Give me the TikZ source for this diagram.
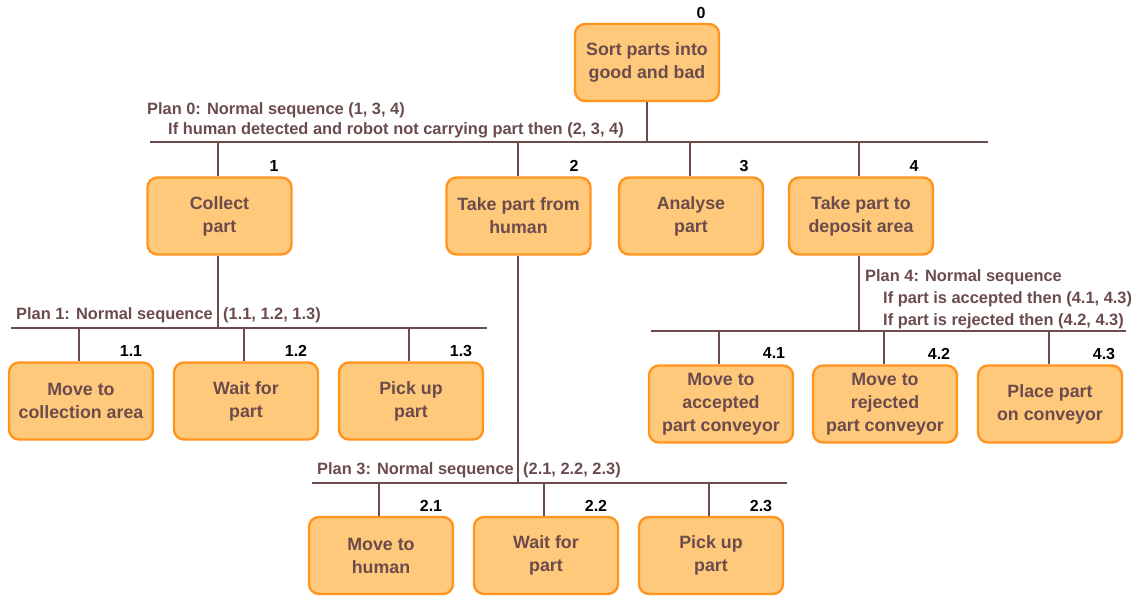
\documentclass[tikz,border=0pt]{standalone}
\usepackage{fontspec}
\setmainfont{Liberation Sans}
\definecolor{boxfill}{HTML}{FFC97C}
\definecolor{boxedge}{HTML}{FF941E}
\definecolor{ink}{HTML}{6B4B4B}
\begin{document}
\begin{tikzpicture}[x=1pt,y=-1pt,
  task/.style={draw=boxedge, fill=boxfill, line width=2.4pt, rounded corners=10pt,
    minimum width=144pt, minimum height=77pt, inner sep=0pt, align=center,
    text=ink, font=\fontsize{17.8}{23}\selectfont\bfseries},
  num/.style={font=\fontsize{16}{16}\selectfont\bfseries, text=black, inner sep=0pt},
  plan/.style={font=\fontsize{16.4}{22}\selectfont\bfseries, text=ink, inner sep=0pt, anchor=west, align=left},
  link/.style={draw=ink, line width=1.6pt}]
\useasboundingbox (0,0) rectangle (1141,597);

% top task
\node[task] (n0) at (647,62.5) {Sort parts into\\good and bad};
\node[num] (l0) at (701,13) {0};

% plan 0 bar
\coordinate (b0l) at (150,142);
\coordinate (b0r) at (988,142);
\draw[link] (b0l) -- (b0r);
\draw[link] (n0.south) -- (n0.south |- b0l);
\node[plan] (p0a) at (147,110) {Plan 0: Normal sequence (1, 3, 4)};
\node[plan] (p0b) at (168,130) {If human detected and robot not carrying part then (2, 3, 4)};

% level 1
\node[task] (n1) at (219.5,216) {Collect\\part};
\node[task] (n2) at (518.5,216) {Take part from\\human};
\node[task] (n3) at (691,216) {Analyse\\part};
\node[task] (n4) at (861,216) {Take part to\\deposit area};
\node[num] (l1) at (274,166) {1};
\node[num] (l2) at (574,166) {2};
\node[num] (l3) at (744,166) {3};
\node[num] (l4) at (914,166) {4};
\foreach \n/\x in {n1/218,n2/518,n3/690,n4/859}
  \draw[link] (\n.north -| \x,0) -- (\x,142);

% plan 1
\coordinate (b1l) at (11,328);
\coordinate (b1r) at (487,328);
\draw[link] (b1l) -- (b1r);
\draw[link] (n1.south -| 218,0) -- (218,328);
\node[plan] (p1a) at (16,315) {Plan 1: Normal sequence};
\node[plan] (p1b) at (223,315) {(1.1, 1.2, 1.3)};
\node[task] (n11) at (81,401) {Move to\\collection area};
\node[task] (n12) at (246,401) {Wait for\\part};
\node[task] (n13) at (411,401) {Pick up\\part};
\node[num] (l11) at (131,351) {1.1};
\node[num] (l12) at (296,351) {1.2};
\node[num] (l13) at (461,351) {1.3};
\foreach \n/\x in {n11/79,n12/244,n13/409}
  \draw[link] (\n.north -| \x,0) -- (\x,328);

% plan under task 2
\coordinate (b2l) at (312,483);
\coordinate (b2r) at (787,483);
\draw[link] (b2l) -- (b2r);
\draw[link] (n2.south -| 518,0) -- (518,483);
\node[plan] (p2a) at (317,470) {Plan 3: Normal sequence};
\node[plan] (p2b) at (523,470) {(2.1, 2.2, 2.3)};
\node[task] (n21) at (381,555.5) {Move to\\human};
\node[task] (n22) at (546,555.5) {Wait for\\part};
\node[task] (n23) at (711,555.5) {Pick up\\part};
\node[num] (l21) at (431,506) {2.1};
\node[num] (l22) at (596,506) {2.2};
\node[num] (l23) at (761,506) {2.3};
\foreach \n/\x in {n21/379,n22/544,n23/709}
  \draw[link] (\n.north -| \x,0) -- (\x,483);

% plan 4
\coordinate (b4l) at (651,331);
\coordinate (b4r) at (1126,331);
\draw[link] (b4l) -- (b4r);
\draw[link] (n4.south -| 859,0) -- (859,331);
\node[plan] (p4a) at (865,277) {Plan 4: Normal sequence};
\node[plan] (p4b) at (883,299) {If part is accepted then (4.1, 4.3)};
\node[plan] (p4c) at (883,321) {If part is rejected then (4.2, 4.3)};
\node[task] (n41) at (721,404) {Move to\\accepted\\part conveyor};
\node[task] (n42) at (885,404) {Move to\\rejected\\part conveyor};
\node[task] (n43) at (1050,404) {Place part\\on conveyor};
\node[num] (l41) at (774,353) {4.1};
\node[num] (l42) at (939,354) {4.2};
\node[num] (l43) at (1104,354) {4.3};
\foreach \n/\x in {n41/719,n42/884,n43/1049}
  \draw[link] (\n.north -| \x,0) -- (\x,331);
\end{tikzpicture}
\end{document}
